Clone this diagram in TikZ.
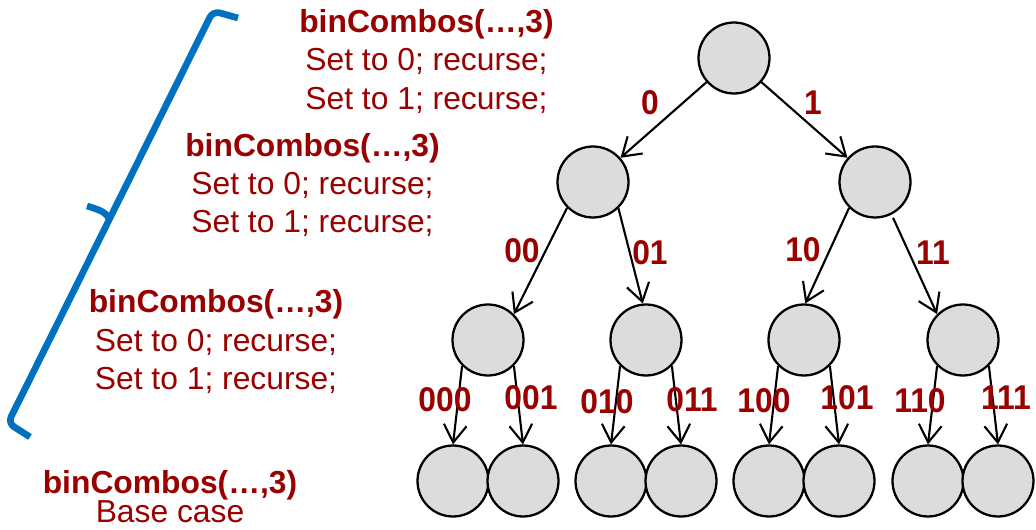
\documentclass[tikz,border=0pt]{standalone}
\usepackage{fontspec}
\setmainfont{Liberation Sans}
\usetikzlibrary{arrows.meta}
\definecolor{dred}{RGB}{153,0,0}
\definecolor{bblue}{RGB}{0,112,192}
\definecolor{nfill}{RGB}{220,220,220}
\begin{document}
\begin{tikzpicture}[x=0.02cm,y=-0.02cm,
 tnode/.style={circle,draw=black,line width=1.3pt,fill=nfill,minimum size=1.42cm,inner sep=0pt},
 arr/.style={line width=1.2pt,-{Straight Barb[length=10pt,width=13pt,line width=1.2pt]}},
 elab/.style={text=dred,font=\fontsize{18.1}{21.9}\selectfont\bfseries,inner sep=0pt,yscale=1.08},
 ttl/.style={text=dred,font=\fontsize{18.1}{21.9}\selectfont\bfseries,anchor=base,inner sep=0pt},
 txt/.style={text=dred,font=\fontsize{18.1}{21.9}\selectfont,anchor=base,inner sep=0pt},
 bracestyle/.style={draw=bblue,line width=3.8pt,rounded corners=4pt}]
\useasboundingbox (0,0) rectangle (1036,530);

% tree nodes
\node[tnode] (r) at (734,58) {};
\node[tnode] (a) at (593,182) {};
\node[tnode] (b) at (875,182) {};
\node[tnode] (aa) at (488,340) {};
\node[tnode] (ab) at (646,340) {};
\node[tnode] (ba) at (804,340) {};
\node[tnode] (bb) at (963,340) {};
\node[tnode] (aaa) at (453,481) {};
\node[tnode] (aab) at (523,481) {};
\node[tnode] (aba) at (611,481) {};
\node[tnode] (abb) at (681,481) {};
\node[tnode] (baa) at (769,481) {};
\node[tnode] (bab) at (839,481) {};
\node[tnode] (bba) at (928,481) {};
\node[tnode] (bbb) at (998,481) {};

% edges
\draw[arr] (r) -- (a);
\draw[arr] (r) -- (b);
\draw[arr] (a.225) -- (aa.45);
\draw[arr] (a.-46) -- (ab.95);
\draw[arr] (b.225) -- (ba.88);
\draw[arr,shorten <=2pt] (b.-63) -- (bb.135);
\foreach \p in {aa,ab,ba,bb}{
  \draw[arr] (\p.225) -- (\p a.north);
  \draw[arr] (\p.315) -- (\p b.north);
}

% edge labels
\node[elab] (l0) at (650,103) {0};
\node[elab] (l1) at (813,103) {1};
\node[elab] (l00) at (522,251) {00};
\node[elab] (l01) at (650,253) {01};
\node[elab] (l10) at (803,250) {10};
\node[elab] (l11) at (933,253) {11};
\node[elab] (l000) at (445,400) {000};
\node[elab] (l001) at (531,398) {001};
\node[elab] (l010) at (607,402) {010};
\node[elab] (l011) at (692,400) {011};
\node[elab] (l100) at (764,401) {100};
\node[elab] (l101) at (847,398) {101};
\node[elab] (l110) at (920,401) {110};
\node[elab] (l111) at (1006,398) {111};

% text blocks
\node[ttl] (t1a) at (426.5,33) {binCombos(…,3)};
\node[txt] (t1b) at (426.5,71) {Set to 0; recurse;};
\node[txt] (t1c) at (426.5,110) {Set to 1; recurse;};
\node[ttl] (t2a) at (312.5,157) {binCombos(…,3)};
\node[txt] (t2b) at (312.5,195) {Set to 0; recurse;};
\node[txt] (t2c) at (312.5,233) {Set to 1; recurse;};
\node[ttl] (t3a) at (216,313) {binCombos(…,3)};
\node[txt] (t3b) at (216,352) {Set to 0; recurse;};
\node[txt] (t3c) at (216,390) {Set to 1; recurse;};
\node[ttl] (t4a) at (170,494) {binCombos(…,3)};
\node[txt] (t4b) at (170,523) {Base case};

% brace
\draw[bracestyle] (238,18) -- (213,11) -- (8,423) -- (30,437);
\draw[bracestyle] (87,206) .. controls (100,210) and (106,212) .. (110,220);
\end{tikzpicture}
\end{document}
